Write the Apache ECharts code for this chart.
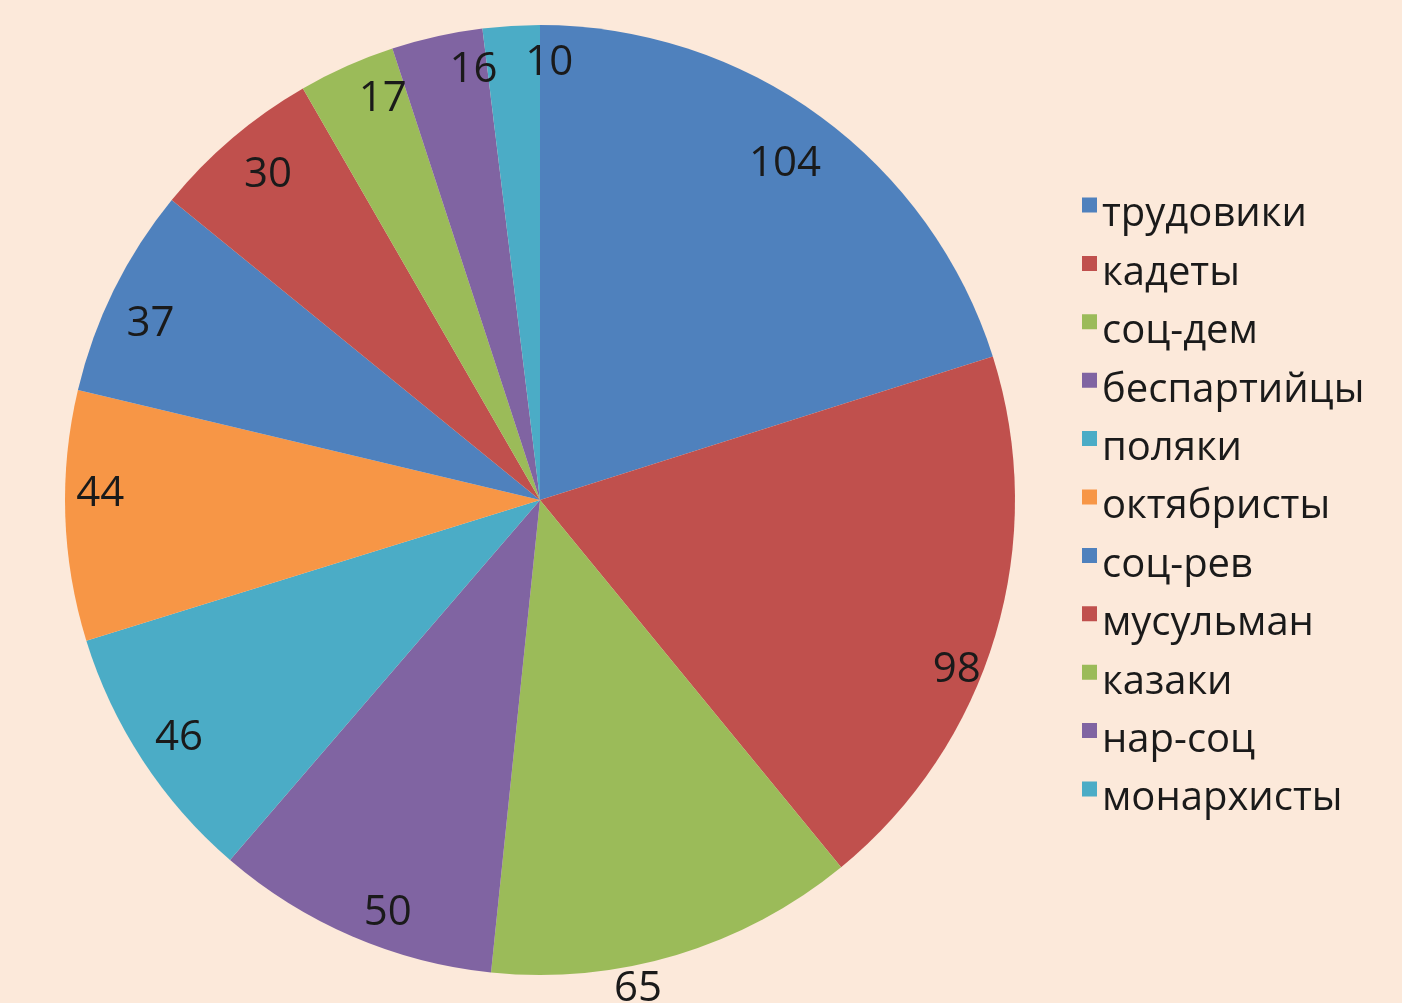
<!DOCTYPE html>
<html>
<head>
<meta charset="utf-8">
<script src="https://cdn.jsdelivr.net/npm/echarts@6/dist/echarts.min.js"></script>
<style>
html,body{margin:0;padding:0;background:#FCE9DA;}
#chart{width:1402px;height:1003px;}
</style>
</head>
<body>
<div id="chart"></div>
<script>
const categories = ['трудовики','кадеты','соц-дем','беспартийцы','поляки','октябристы','соц-рев','мусульман','казаки','нар-соц','монархисты'];
const seats = [104, 98, 65, 50, 46, 44, 37, 30, 17, 16, 10];
const colors = ['#4F81BD','#C0504D','#9BBB59','#8064A2','#4BACC6','#F79646','#4F81BD','#C0504D','#9BBB59','#8064A2','#4BACC6'];
const outsideLabel = ['соц-дем'];

// small visual nudges of the value labels (pixels), matching the reference's label placement
const labelNudge = [[-15,19],[-5,45],[-45,13],[22,9],[7,-3],[0,-21],[5,19],[13,10],[22,1],[29,0],[36,2]];

const FONT = '"Open Sans", "Noto Sans", sans-serif';
const R = 475;
const CENTER = [540, 500];

const pieData = categories.map((c, i) => ({ name: c, value: seats[i], itemStyle: { color: colors[i] } }));

const innerLabelData = categories.map((c, i) => ({
  name: c, value: seats[i],
  label: { show: outsideLabel.indexOf(c) < 0 }
}));
const outerLabelData = categories.map((c, i) => ({
  name: c, value: seats[i],
  label: { show: outsideLabel.indexOf(c) >= 0 }
}));

const labelStyle = {
  position: 'inside',
  formatter: '{c}',
  fontFamily: FONT,
  fontSize: 42,
  color: '#1a1a1a'
};

const nudge = function (params) {
  const n = labelNudge[params.dataIndex] || [0, 0];
  return { dx: n[0], dy: n[1] };
};

const chart = echarts.init(document.getElementById('chart'), null, { renderer: 'canvas' });
chart.setOption({
  backgroundColor: '#FCE9DA',
  animation: false,
  legend: {
    orient: 'vertical',
    left: 1082,
    top: 194,
    padding: 0,
    icon: 'path://M0,0H15V15H0Z M0,35L0.001,35L0,35.001Z',
    itemWidth: 15,
    itemHeight: 35,
    itemGap: 16.4,
    selectedMode: false,
    data: categories,
    textStyle: { fontFamily: FONT, fontSize: 40, color: '#1a1a1a', lineHeight: 42 }
  },
  series: [
    {
      type: 'pie',
      center: CENTER,
      radius: [0, R],
      startAngle: 90,
      clockwise: true,
      silent: true,
      label: { show: false },
      labelLine: { show: false },
      itemStyle: { borderWidth: 0 },
      data: pieData
    },
    {
      type: 'pie',
      center: CENTER,
      radius: [R * 0.84, R],
      startAngle: 90,
      clockwise: true,
      silent: true,
      itemStyle: { color: 'rgba(0,0,0,0)' },
      label: labelStyle,
      labelLine: { show: false },
      labelLayout: nudge,
      data: innerLabelData
    },
    {
      type: 'pie',
      center: CENTER,
      radius: [R, R * 1.08],
      startAngle: 90,
      clockwise: true,
      silent: true,
      itemStyle: { color: 'rgba(0,0,0,0)' },
      label: labelStyle,
      labelLine: { show: false },
      labelLayout: nudge,
      data: outerLabelData
    }
  ]
});
</script>
</body>
</html>
